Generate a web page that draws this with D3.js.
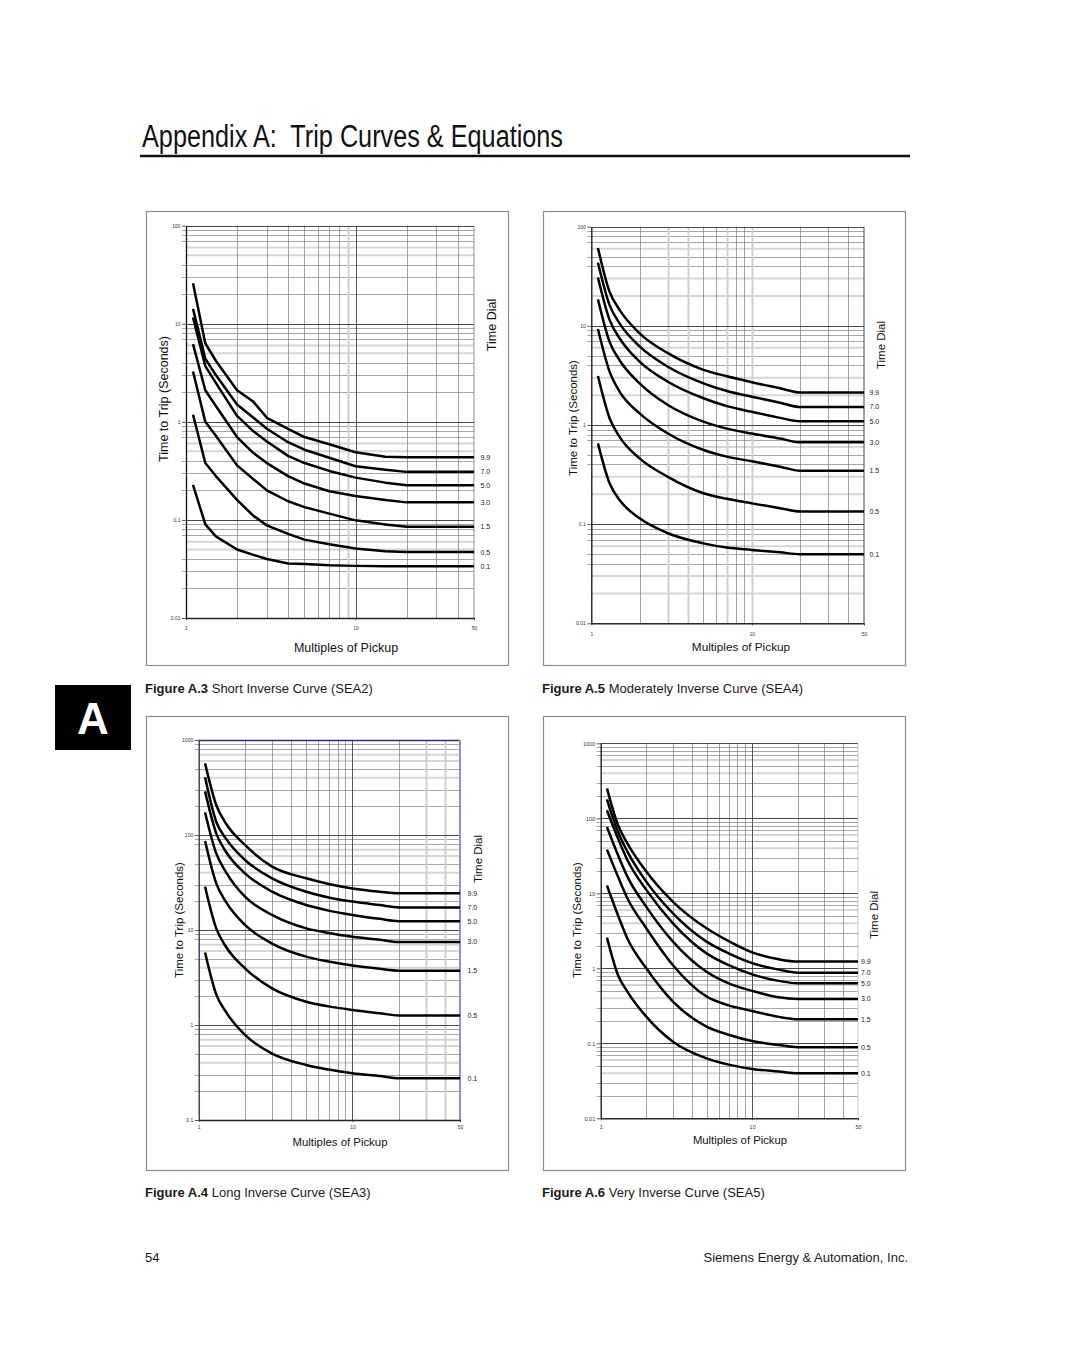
<!DOCTYPE html>
<html><head><meta charset="utf-8">
<script src="https://cdn.jsdelivr.net/npm/d3@7"></script>
<style>body{margin:0;background:#fff} svg{display:block}</style>
</head><body>
<svg id="page" width="1080" height="1364"></svg>
<script>
// ---------- data ----------
const dialLabels = ["9.9", "7.0", "5.0", "3.0", "1.5", "0.5", "0.1"];
const xTicks = [1, 10, 50];

// Figure A.3 Short Inverse (SEA2)
const sea2X = [1.1, 1.3, 1.5, 2, 2.5, 3, 4, 5, 7, 10, 15, 20, 50];
const sea2_99 = [25.9, 6.3, 4.2, 2.1, 1.6, 1.1, 0.85, 0.70, 0.59, 0.49, 0.44, 0.435, 0.435];
const sea2_70 = [14.2, 4.4, 3.0, 1.5, 1.1, 0.85, 0.62, 0.52, 0.43, 0.353, 0.325, 0.309, 0.309];
const sea2_50 = [11.6, 3.7, 2.5, 1.15, 0.80, 0.63, 0.45, 0.38, 0.316, 0.27, 0.24, 0.226, 0.226];
const sea2_30 = [6.2, 2.1, 1.45, 0.70, 0.48, 0.38, 0.28, 0.235, 0.196, 0.175, 0.16, 0.151, 0.151];
const sea2_15 = [3.26, 1.0, 0.72, 0.36, 0.26, 0.20, 0.155, 0.135, 0.116, 0.099, 0.09, 0.085, 0.085];
const sea2_05 = [1.18, 0.38, 0.28, 0.16, 0.11, 0.088, 0.072, 0.063, 0.0565, 0.051, 0.048, 0.047, 0.047];
const sea2_01 = [0.228, 0.09, 0.068, 0.05, 0.044, 0.04, 0.036, 0.0355, 0.0345, 0.034, 0.0338, 0.0337, 0.0337];

// Figure A.5 Moderately Inverse (SEA4)
const sea4X = [1.1, 1.3, 1.5, 2, 3, 5, 7, 10, 15, 20, 50];
const sea4_99 = [61, 22, 14.5, 8.4, 5.3, 3.6, 3.1, 2.7, 2.35, 2.13, 2.13];
const sea4_70 = [43.4, 16.2, 10.6, 6.2, 3.87, 2.63, 2.2, 1.93, 1.68, 1.52, 1.52];
const sea4_50 = [30.8, 11.5, 7.5, 4.35, 2.73, 1.86, 1.55, 1.36, 1.18, 1.09, 1.09];
const sea4_30 = [18.5, 6.9, 4.5, 2.63, 1.59, 1.08, 0.92, 0.82, 0.73, 0.668, 0.668];
const sea4_15 = [9.3, 3.45, 2.17, 1.31, 0.82, 0.56, 0.48, 0.43, 0.38, 0.346, 0.346];
const sea4_05 = [3.12, 1.17, 0.76, 0.46, 0.30, 0.205, 0.18, 0.162, 0.145, 0.134, 0.134];
const sea4_01 = [0.653, 0.258, 0.175, 0.1145, 0.081, 0.064, 0.058, 0.055, 0.052, 0.0497, 0.0497];

// Figure A.4 Long Inverse (SEA3)
const sea3X = [1.1, 1.3, 1.5, 2, 3, 5, 7, 10, 15, 20, 50];
const sea3_99 = [568, 207, 133, 78.5, 46.4, 35, 30.5, 27.4, 25.3, 24.3, 24.3];
const sea3_70 = [405, 138, 92, 54.6, 35, 25.3, 22, 19.9, 18.3, 17.3, 17.3];
const sea3_50 = [288, 104, 67, 39.5, 25.3, 18.3, 16, 14.4, 13.1, 12.4, 12.4];
const sea3_30 = [173, 64, 41, 22.4, 14.4, 10.4, 9.3, 8.5, 7.9, 7.48, 7.48];
const sea3_15 = [86.5, 31, 19.9, 11.3, 7.2, 5.24, 4.65, 4.22, 3.9, 3.73, 3.73];
const sea3_05 = [28.6, 10.4, 6.7, 3.95, 2.43, 1.76, 1.57, 1.44, 1.33, 1.26, 1.26];
const sea3_01 = [5.8, 2.1, 1.38, 0.785, 0.5, 0.38, 0.34, 0.31, 0.29, 0.275, 0.275];

// Figure A.6 Very Inverse (SEA5)
const sea5X = [1.1, 1.3, 1.5, 2, 3, 5, 7, 10, 15, 20, 50];
const sea5_99 = [251, 81.5, 46.4, 19.5, 7.7, 3.42, 2.3, 1.63, 1.32, 1.23, 1.23];
const sea5_70 = [179, 66, 36, 14.3, 5.4, 2.27, 1.58, 1.17, 0.96, 0.875, 0.875];
const sea5_50 = [128, 54, 27.8, 11.1, 3.98, 1.58, 1.1, 0.83, 0.68, 0.63, 0.63];
const sea5_30 = [76.6, 32.4, 16.7, 6.6, 2.27, 0.90, 0.63, 0.50, 0.41, 0.39, 0.39];
const sea5_15 = [38.2, 16.7, 8.6, 3.42, 1.1, 0.42, 0.32, 0.27, 0.225, 0.209, 0.209];
const sea5_05 = [12.7, 5.1, 2.5, 1.0, 0.36, 0.167, 0.13, 0.107, 0.095, 0.0885, 0.0885];
const sea5_01 = [2.56, 0.815, 0.49, 0.227, 0.105, 0.063, 0.052, 0.0455, 0.042, 0.0398, 0.0398];

const sea2Series = [sea2_99, sea2_70, sea2_50, sea2_30, sea2_15, sea2_05, sea2_01];
const sea4Series = [sea4_99, sea4_70, sea4_50, sea4_30, sea4_15, sea4_05, sea4_01];
const sea3Series = [sea3_99, sea3_70, sea3_50, sea3_30, sea3_15, sea3_05, sea3_01];
const sea5Series = [sea5_99, sea5_70, sea5_50, sea5_30, sea5_15, sea5_05, sea5_01];

// ---------- drawing ----------
const svg = d3.select("#page");
const SANS = "'Liberation Sans', Arial, Helvetica, sans-serif";
const NARROW = "'Liberation Sans Narrow', 'Arial Narrow', 'Liberation Sans', sans-serif";

// Page header
svg.append("text").attr("x", 142).attr("y", 147)
  .attr("font-family", NARROW).attr("font-size", 31).attr("fill", "#111")
  .style("white-space", "pre")
  .attr("textLength", 421).attr("lengthAdjust", "spacingAndGlyphs")
  .text("Appendix A:\u00A0 Trip Curves & Equations");
svg.append("line").attr("x1", 140).attr("x2", 910).attr("y1", 156).attr("y2", 156)
  .attr("stroke", "#111").attr("stroke-width", 2.5);

// Side tab
svg.append("rect").attr("x", 55).attr("y", 685).attr("width", 76).attr("height", 65).attr("fill", "#000");
svg.append("text").attr("x", 93).attr("y", 734).attr("text-anchor", "middle")
  .attr("font-family", SANS).attr("font-weight", "bold").attr("font-size", 44).attr("fill", "#fff").text("A");

function caption(x, y, bold, rest) {
  const t = svg.append("text").attr("x", x).attr("y", y)
    .attr("font-family", SANS).attr("font-size", 13).attr("fill", "#1a1a1a");
  t.append("tspan").attr("font-weight", "bold").text(bold);
  t.append("tspan").text(" " + rest);
}
caption(145, 692.5, "Figure A.3", "Short Inverse Curve (SEA2)");
caption(542, 692.5, "Figure A.5", "Moderately Inverse Curve (SEA4)");
caption(145, 1196.5, "Figure A.4", "Long Inverse Curve (SEA3)");
caption(542, 1196.5, "Figure A.6", "Very Inverse Curve (SEA5)");

svg.append("text").attr("x", 145).attr("y", 1262).attr("font-family", SANS).attr("font-size", 13)
  .attr("fill", "#1a1a1a").text("54");
svg.append("text").attr("x", 908).attr("y", 1262).attr("text-anchor", "end").attr("font-family", SANS)
  .attr("font-size", 13).attr("fill", "#1a1a1a").text("Siemens Energy & Automation, Inc.");

function drawChart(cfg) {
  const g = svg.append("g");
  g.append("rect").attr("x", cfg.box[0] + 0.5).attr("y", cfg.box[1] + 0.5)
    .attr("width", cfg.box[2]).attr("height", cfg.box[3])
    .attr("fill", "none").attr("stroke", "#8c8c8c").attr("stroke-width", 1.2);

  const x = d3.scaleLog().domain([1, 50]).range([cfg.left, cfg.right]);
  const y = d3.scaleLog().domain(cfg.yDomain).range([cfg.bottom, cfg.top]);

  // horizontal minor grid
  const lo = Math.round(Math.log10(cfg.yDomain[0])), hi = Math.round(Math.log10(cfg.yDomain[1]));
  const minors = [];
  for (let e = lo; e < hi; e++) for (let m = 2; m <= 9; m++) minors.push({ v: m * Math.pow(10, e), m });
  const grid = g.append("g");
  grid.selectAll("line.hl").data(minors.filter(d => cfg.hLight.includes(d.m))).join("line")
    .attr("x1", cfg.left).attr("x2", x(50))
    .attr("y1", d => y(d.v)).attr("y2", d => y(d.v))
    .attr("stroke", "#d6d6d6").attr("stroke-width", 2);
  grid.selectAll("line.hm").data(minors.filter(d => !cfg.hLight.includes(d.m))).join("line")
    .attr("x1", cfg.left - 4).attr("x2", x(50))
    .attr("y1", d => Math.round(y(d.v)) + 0.5).attr("y2", d => Math.round(y(d.v)) + 0.5)
    .attr("stroke", "#6a6a6a").attr("stroke-width", 0.6);

  // vertical grid
  const vVals = [2, 3, 4, 5, 6, 7, 8, 9, 10, 20, 30, 40];
  grid.selectAll("line.v").data(vVals).join("line")
    .attr("x1", d => Math.round(x(d)) + 0.5).attr("x2", d => Math.round(x(d)) + 0.5)
    .attr("y1", cfg.top).attr("y2", cfg.bottom)
    .attr("stroke", d => cfg.vLight.includes(d) ? "#d0d0d0" : (d === 10 ? "#444" : "#7a7a7a"))
    .attr("stroke-width", d => cfg.vLight.includes(d) ? 2 : (d === 10 ? 0.9 : 0.7));

  // decade lines
  const decades = [];
  for (let e = lo; e <= hi; e++) decades.push(Math.pow(10, e));
  grid.selectAll("line.d").data(decades).join("line")
    .attr("x1", cfg.left).attr("x2", x(50))
    .attr("y1", d => Math.round(y(d)) + 0.5).attr("y2", d => Math.round(y(d)) + 0.5)
    .attr("stroke", (d, i) => (i === decades.length - 1 && cfg.topColor) ? cfg.topColor : "#333")
    .attr("stroke-width", (d, i) => (i === decades.length - 1 && cfg.topColor) ? 1.5 : 0.9);

  // right border at 50
  g.append("line").attr("x1", x(50)).attr("x2", x(50)).attr("y1", cfg.top).attr("y2", cfg.bottom)
    .attr("stroke", cfg.rightColor).attr("stroke-width", cfg.rightWidth);

  // axes
  const yAxis = d3.axisLeft(y).tickValues(decades).tickFormat(d => String(+d.toPrecision(3)))
    .tickSize(4).tickSizeOuter(0).tickPadding(1.5);
  const ya = g.append("g").attr("transform", `translate(${cfg.left},0)`).call(yAxis);
  ya.select(".domain").attr("stroke", cfg.leftColor).attr("stroke-width", 1.3);
  ya.selectAll(".tick line").attr("stroke", "#333").attr("stroke-width", 0.8);
  ya.selectAll(".tick text").attr("font-family", SANS).attr("font-size", cfg.tickFont).attr("fill", "#333");

  const xAxis = d3.axisBottom(x).tickValues(xTicks).tickFormat(d => String(d))
    .tickSize(2).tickSizeOuter(0).tickPadding(cfg.xTickPad);
  const xa = g.append("g").attr("transform", `translate(0,${cfg.bottom})`).call(xAxis);
  xa.select(".domain").attr("stroke", "#222").attr("stroke-width", 1.3);
  xa.selectAll(".tick line").attr("stroke", "#333");
  xa.selectAll(".tick text").attr("font-family", SANS).attr("font-size", cfg.tickFont).attr("fill", "#333");

  // curves
  const line = d3.line().x(d => x(d[0])).y(d => y(d[1])).curve(cfg.curve);
  cfg.series.forEach((vals, i) => {
    const pts = cfg.xs.map((xv, k) => [xv, vals[k]]);
    g.append("path").attr("d", line(pts)).attr("fill", "none")
      .attr("stroke", "#000").attr("stroke-width", 2.5)
      .attr("stroke-linejoin", "round").attr("stroke-linecap", "butt");
    g.append("text").attr("x", cfg.labelX).attr("y", y(vals[vals.length - 1]))
      .attr("dy", "0.35em").attr("font-family", SANS).attr("font-size", 7).attr("fill", "#222")
      .text(dialLabels[i]);
  });

  // axis titles
  g.append("text").attr("transform", `translate(${cfg.yTitle[0]},${cfg.yTitle[1]}) rotate(-90)`)
    .attr("text-anchor", "middle").attr("dy", "0.35em").attr("font-family", SANS)
    .attr("font-size", cfg.titleFont).attr("fill", "#111").text("Time to Trip (Seconds)");
  g.append("text").attr("transform", `translate(${cfg.dialTitle[0]},${cfg.dialTitle[1]}) rotate(-90)`)
    .attr("text-anchor", "middle").attr("dy", "0.35em").attr("font-family", SANS)
    .attr("font-size", cfg.titleFont).attr("fill", "#111").text("Time Dial");
  g.append("text").attr("x", cfg.xTitle[0]).attr("y", cfg.xTitle[1])
    .attr("text-anchor", "middle").attr("dy", "0.35em").attr("font-family", SANS)
    .attr("font-size", cfg.xTitleFont).attr("fill", "#111").text("Multiples of Pickup");
}

drawChart({
  box: [146, 211, 362, 454], left: 186, right: 474, top: 225.7, bottom: 618,
  yDomain: [0.01, 100], xs: sea2X, series: sea2Series, curve: d3.curveLinear,
  hLight: [5, 6], vLight: [9], leftColor: "#111", rightColor: "#777", rightWidth: 0.8,
  tickFont: 5, xTickPad: 6, labelX: 480.5, yTitle: [164, 399], dialTitle: [492, 325], xTitle: [346, 648],
  titleFont: 12.5, xTitleFont: 12.5
});
drawChart({
  box: [543, 211, 362, 454], left: 591.3, right: 864, top: 226.7, bottom: 623.3,
  yDomain: [0.01, 100], xs: sea4X, series: sea4Series, curve: d3.curveMonotoneX,
  hLight: [2, 3, 6], vLight: [3, 4, 7, 10], leftColor: "#111", rightColor: "#444", rightWidth: 1,
  tickFont: 5, xTickPad: 7, labelX: 869.5, yTitle: [573, 418], dialTitle: [881, 345], xTitle: [741, 647],
  titleFont: 11.5, xTitleFont: 11.8
});
drawChart({
  box: [146, 716, 362, 454], left: 198.7, right: 460, top: 740, bottom: 1120,
  yDomain: [0.1, 1000], xs: sea3X, series: sea3Series, curve: d3.curveMonotoneX,
  hLight: [4, 6, 7], vLight: [30, 40], leftColor: "#1f2a66", topColor: "#2a3470",
  rightColor: "#8f8fe0", rightWidth: 2,
  tickFont: 5, xTickPad: 3.5, labelX: 467.5, yTitle: [179, 920], dialTitle: [478, 859], xTitle: [340, 1142],
  titleFont: 11.5, xTitleFont: 11.4
});
drawChart({
  box: [543, 716, 362, 454], left: 600.7, right: 858, top: 743.3, bottom: 1118.3,
  yDomain: [0.01, 1000], xs: sea5X, series: sea5Series, curve: d3.curveMonotoneX,
  hLight: [4, 6], vLight: [], leftColor: "#111", rightColor: "#bbb", rightWidth: 0.8,
  tickFont: 5.5, xTickPad: 5, labelX: 861, yTitle: [577, 920], dialTitle: [874, 915], xTitle: [740, 1140],
  titleFont: 11.5, xTitleFont: 11.3
});
</script>
</body></html>
